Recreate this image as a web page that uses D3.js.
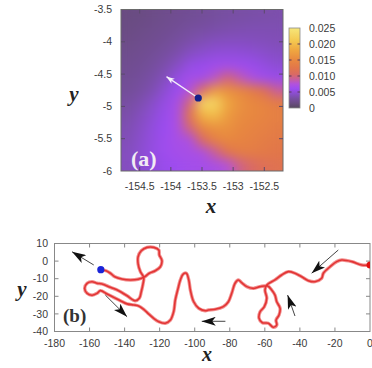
<!DOCTYPE html>
<html>
<head>
<meta charset="utf-8">
<script src="https://cdn.jsdelivr.net/npm/d3@7"></script>
<style>
  body { margin: 0; background: #fff; }
  text { font-family: "Liberation Sans", Arial, sans-serif; fill: #3a3a3a; }
  .lab { font-family: "Liberation Serif", "DejaVu Serif", serif; font-weight: bold; }
</style>
</head>
<body>
<script>
// ---- panel (a): density around the current position (values x 1e-3) ----
const gridX = [-154.7, -154.5, -154.3, -154.1, -153.9, -153.7, -153.5, -153.3, -153.1, -152.9, -152.7, -152.5, -152.3];
const gridY = [-3.596, -3.788, -3.981, -4.173, -4.365, -4.558, -4.750, -4.942, -5.135, -5.327, -5.519, -5.712, -5.904];
const density = [
  [1.5, 1.6, 1.8, 2.0, 2.2, 2.4, 2.6, 2.8, 3.0, 3.1, 3.2, 3.3, 3.4],
  [1.6, 1.8, 2.0, 2.2, 2.5, 2.8, 3.0, 3.2, 3.4, 3.5, 3.6, 3.6, 3.6],
  [1.8, 2.0, 2.2, 2.5, 2.9, 3.3, 3.7, 4.0, 4.1, 4.1, 4.0, 3.9, 3.8],
  [2.0, 2.2, 2.5, 2.9, 3.4, 4.2, 4.6, 5.0, 5.1, 5.0, 4.8, 4.5, 4.2],
  [2.2, 2.4, 2.8, 3.4, 4.3, 5.5, 5.8, 6.3, 6.4, 6.2, 5.8, 5.3, 4.8],
  [2.4, 2.7, 3.2, 4.0, 5.5, 6.5, 6.5, 8.0, 10, 8.5, 7.0, 6.2, 5.8],
  [2.6, 3.0, 3.6, 4.8, 6.0, 7.5, 11, 17, 16, 15, 13.5, 11.5, 9.0],
  [3.0, 3.5, 4.4, 5.5, 6.8, 10, 23, 23, 18, 16, 15, 14.5, 13.5],
  [3.3, 4.0, 4.8, 5.8, 7.0, 12.5, 19, 20, 17, 15.5, 15, 14.5, 14],
  [3.6, 4.3, 5.2, 6.0, 7.0, 10, 15, 16, 16, 15, 14.5, 14, 13.5],
  [3.8, 4.5, 5.3, 6.2, 6.8, 7.0, 10.5, 14, 15, 14.5, 14, 13.5, 13],
  [4.0, 4.7, 5.4, 6.2, 6.6, 6.8, 7.0, 9.0, 12, 13.5, 13.5, 13, 12.5],
  [4.0, 4.6, 5.2, 5.8, 6.2, 6.5, 6.6, 6.8, 7.5, 9.5, 10.5, 11.5, 12]
];
const position = [-153.56, -4.87];
const heading = [-154.07, -4.54];
const xTicksA = [-154.5, -154, -153.5, -153, -152.5];
const yTicksA = [-3.5, -4, -4.5, -5, -5.5, -6];
const cbTicks = [0, 0.005, 0.010, 0.015, 0.020, 0.025];
const cbStops = [0, 1.5, 3, 4.5, 6, 7.5, 9, 10.5, 12.5, 15, 18, 21, 25];
const cbColors = ["#56485e", "#6a4c82", "#784fa2", "#8a4ecc", "#9c4cf2", "#b252dc", "#c85e9c",
                  "#da6a64", "#e2764a", "#e88840", "#efa640", "#f4c850", "#f6e67a"];

// ---- panel (b): trajectory, from the start (x = 0) to the current position ----
const trackX = [0, -4.7, -10.4, -16.1, -19, -22.8, -26.6, -27.6, -31.4, -35.2, -39, -42.8, -46.6, -50.4, -54.2, -58.9,
  -59.9, -58.9, -60.3, -62.7, -63.3, -61.4, -58, -55.2, -53.2, -53.6, -51.9, -51.3, -53.2, -54.2, -56.1, -58.4,
  -62.7, -66.6, -70.3, -73.2, -75.1, -77, -78.9, -80.8, -83.7, -88.4, -92.2, -94, -97.7, -100.6, -102.5, -103.4,
  -104.8, -106.7, -108.2, -109.5, -111.1, -112, -113.9, -116.8, -120.5, -123.4, -126.2, -129.1, -132, -134.8,
  -138.6, -142.4, -146.2, -150, -153.8, -155.7, -158.6, -161.4, -162.8, -161.4, -158.6, -155.7, -152.9,
  -148.1, -143.4, -138.6, -133.9, -131.6, -130.5, -129.5, -129.1, -131, -132.3, -132.3, -130.5, -127.2, -123.4,
  -120.5, -120.2, -118.7, -119.6, -122.5, -125.9, -128.5, -132.3, -136.7, -141.5, -145.6, -148.1, -150.6, -153.56];
const trackY = [-2.2, -2.2, -0.3, 0.6, -0.3, -3.2, -6.9, -9.8, -11.7, -11.1, -8.9, -6.9, -6, -7.9, -10.7, -13.6,
  -16.4, -21.1, -25.9, -28.8, -32.5, -35, -35.3, -37.6, -36.3, -33.5, -30.6, -26.8, -23.1, -19.3, -16.4, -14.1,
  -14.5, -15.5, -14.5, -12.3, -10.7, -12.6, -18.3, -23.1, -25.9, -27.4, -27.8, -28.2, -26.8, -23.1, -16.4, -10.7,
  -6.9, -7.5, -10.7, -15.5, -22.1, -28.7, -33.5, -35.3, -34.4, -32.5, -30.1, -27.4, -25.5, -24.9,
  -24.3, -22.5, -20.6, -18.7, -16.8, -18.3, -19.4, -18.3, -15.5, -12.6, -11.7, -12.6, -13,
  -14.9, -16.8, -19.7, -22.5, -21.1, -17.4, -13, -9.2, -6, -1.6, 2.5, 5.9, 7.8, 7.8,
  6.3, 3.5, 0.2, -3.2, -5.5, -6.9, -8.9, -10.3, -10.7, -10.2, -8.9, -6.9, -5.5, -4.87];
// direction arrows: [tailX, tailY, tipX, tipY]
const arrowsB = [
  [-157.6, -2.2, -170, 5.3],
  [-151, -19.3, -138.6, -31.6],
  [-82.5, -34.2, -96, -34.2],
  [-18.1, 6.3, -33.3, -6.9],
  [-42.8, -31.2, -47, -19.3]
];
const xTicksB = [-180, -160, -140, -120, -100, -80, -60, -40, -20, 0];
const yTicksB = [10, 0, -10, -20, -30, -40];

const svg = d3.select("body").append("svg").attr("width", 372).attr("height", 368);
const defs = svg.append("defs");

function marker(id, len, wid, fill) {
  defs.append("marker").attr("id", id)
      .attr("viewBox", `0 0 ${len} ${wid}`)
      .attr("refX", len).attr("refY", wid / 2)
      .attr("markerWidth", len).attr("markerHeight", wid)
      .attr("markerUnits", "userSpaceOnUse").attr("orient", "auto")
    .append("path").attr("d", `M0,0L${len},${wid / 2}L0,${wid}L${len * 0.25},${wid / 2}Z`).attr("fill", fill);
}
marker("headW", 8, 6, "#f6f0fb");
marker("headK", 14, 9, "#111");

function frameTicks(g, x, y, xt, yt, len, col) {
  const [x0, x1] = x.range(), [y0, y1] = y.range();
  xt.forEach(t => {
    g.append("line").attr("x1", x(t)).attr("x2", x(t)).attr("y1", y0).attr("y2", y0 - len).attr("stroke", col);
    g.append("line").attr("x1", x(t)).attr("x2", x(t)).attr("y1", y1).attr("y2", y1 + len).attr("stroke", col);
  });
  yt.forEach(t => {
    g.append("line").attr("y1", y(t)).attr("y2", y(t)).attr("x1", x0).attr("x2", x0 + len).attr("stroke", col);
    g.append("line").attr("y1", y(t)).attr("y2", y(t)).attr("x1", x1).attr("x2", x1 - len).attr("stroke", col);
  });
}

// ================= panel (a) =================
const xA = d3.scaleLinear().domain([-154.8, -152.2]).range([121, 283]);
const yA = d3.scaleLinear().domain([-6, -3.5]).range([171, 9.5]);
const color = d3.scaleLinear().domain(cbStops).range(cbColors).clamp(true);

const nx = gridX.length, ny = gridY.length;
const canvas = document.createElement("canvas");
canvas.width = nx; canvas.height = ny;
const ctx = canvas.getContext("2d");
const img = ctx.createImageData(nx, ny);
density.forEach((row, j) => row.forEach((v, i) => {
  const c = d3.rgb(color(v)), k = 4 * (j * nx + i);
  img.data[k] = c.r; img.data[k + 1] = c.g; img.data[k + 2] = c.b; img.data[k + 3] = 255;
}));
ctx.putImageData(img, 0, 0);

// soften the coarse grid; alpha reset keeps the border colours solid
const smooth = defs.append("filter").attr("id", "smooth")
    .attr("x", 0).attr("y", 0).attr("width", 1).attr("height", 1)
    .attr("color-interpolation-filters", "sRGB");
smooth.append("feGaussianBlur").attr("stdDeviation", 4);
smooth.append("feComponentTransfer").append("feFuncA")
    .attr("type", "linear").attr("slope", 0).attr("intercept", 1);

defs.append("clipPath").attr("id", "clipA").append("rect")
    .attr("x", 121).attr("y", 9.5).attr("width", 162).attr("height", 161.5);
const cw = xA(gridX[1]) - xA(gridX[0]), ch = yA(gridY[1]) - yA(gridY[0]);
const gA = svg.append("g");
gA.append("g").attr("clip-path", "url(#clipA)")
  .append("image")
    .attr("href", canvas.toDataURL())
    .attr("x", xA(gridX[0]) - cw / 2).attr("y", yA(gridY[0]) - ch / 2)
    .attr("width", cw * nx).attr("height", ch * ny)
    .attr("preserveAspectRatio", "none")
    .attr("filter", "url(#smooth)");

gA.append("rect").attr("x", 121).attr("y", 9.5).attr("width", 162).attr("height", 161.5)
    .attr("fill", "none").attr("stroke", "#6a6a6a");
frameTicks(gA, xA, yA, xTicksA, yTicksA.slice(1, -1), 4, "#5a4a6a");

gA.append("line")
    .attr("x1", xA(position[0])).attr("y1", yA(position[1]))
    .attr("x2", xA(heading[0])).attr("y2", yA(heading[1]))
    .attr("stroke", "#f3ecfa").attr("stroke-width", 1.4).attr("marker-end", "url(#headW)");
gA.append("circle").attr("cx", xA(position[0])).attr("cy", yA(position[1])).attr("r", 3.6).attr("fill", "#14208a");

gA.append("text").attr("class", "lab").attr("x", 131).attr("y", 166).attr("font-size", 22)
    .style("fill", "#f2ecf4").text("(a)");

gA.selectAll(".ya").data(yTicksA).enter().append("text")
    .attr("x", 112).attr("y", d => yA(d)).attr("dy", "0.35em").attr("text-anchor", "end")
    .attr("font-size", 10.5).text(d => d);
gA.selectAll(".xa").data(xTicksA).enter().append("text")
    .attr("x", d => xA(d)).attr("y", 190).attr("text-anchor", "middle")
    .attr("font-size", 10.5).text(d => d);
gA.append("text").attr("class", "lab").attr("x", 74).attr("y", 101).attr("text-anchor", "middle")
    .attr("font-size", 21).attr("font-style", "italic").style("fill", "#222").text("y");
gA.append("text").attr("class", "lab").attr("x", 211).attr("y", 213).attr("text-anchor", "middle")
    .attr("font-size", 21).attr("font-style", "italic").style("fill", "#222").text("x");

// colour bar
const cbY = d3.scaleLinear().domain([0, 0.025]).range([108, 28]);
const grad = defs.append("linearGradient").attr("id", "cbGrad")
    .attr("x1", 0).attr("y1", 1).attr("x2", 0).attr("y2", 0);
cbStops.forEach((s, i) => grad.append("stop").attr("offset", s / 25).attr("stop-color", cbColors[i]));
gA.append("rect").attr("x", 289).attr("y", cbY(0.025)).attr("width", 11).attr("height", cbY(0) - cbY(0.025))
    .attr("fill", "url(#cbGrad)").attr("stroke", "#8a8a8a").attr("stroke-width", 0.8);
cbTicks.slice(1, -1).forEach(t => {
  gA.append("line").attr("x1", 289).attr("x2", 291.5).attr("y1", cbY(t)).attr("y2", cbY(t)).attr("stroke", "#5a3a5a");
  gA.append("line").attr("x1", 297.5).attr("x2", 300).attr("y1", cbY(t)).attr("y2", cbY(t)).attr("stroke", "#5a3a5a");
});
gA.selectAll(".cb").data(cbTicks).enter().append("text")
    .attr("x", 309).attr("y", d => cbY(d)).attr("dy", "0.35em")
    .attr("font-size", 10.5).text(d => d === 0 ? "0" : d3.format(".3f")(d));

// ================= panel (b) =================
const xB = d3.scaleLinear().domain([-180, 0]).range([54.5, 370]);
const yB = d3.scaleLinear().domain([-40, 10]).range([331.5, 243.5]);
const gB = svg.append("g");

gB.append("rect").attr("x", 54.5).attr("y", 243.5).attr("width", 315.5).attr("height", 88)
    .attr("fill", "none").attr("stroke", "#888");
frameTicks(gB, xB, yB, xTicksB.slice(1, -1), yTicksB.slice(1, -1), 4, "#888");

defs.append("clipPath").attr("id", "clipB").append("rect")
    .attr("x", 54.5).attr("y", 243.5).attr("width", 315.5).attr("height", 88);
const track = d3.range(trackX.length).map(i => [trackX[i], trackY[i]]);
const line = d3.line().x(d => xB(d[0])).y(d => yB(d[1])).curve(d3.curveCatmullRom.alpha(0.5));
const gT = gB.append("g").attr("clip-path", "url(#clipB)");
gT.append("path").attr("d", line(track)).attr("fill", "none")
    .attr("stroke", "#f29090").attr("stroke-width", 3.4).attr("stroke-linejoin", "round");
gT.append("path").attr("d", line(track)).attr("fill", "none")
    .attr("stroke", "#e23434").attr("stroke-width", 1.6).attr("stroke-linejoin", "round");
gT.append("circle").attr("cx", xB(trackX[0])).attr("cy", yB(trackY[0])).attr("r", 3.5).attr("fill", "#e01010");

gB.append("circle").attr("cx", xB(position[0])).attr("cy", yB(position[1])).attr("r", 3.6).attr("fill", "#1a24d8");

arrowsB.forEach(a => {
  gB.append("line").attr("x1", xB(a[0])).attr("y1", yB(a[1])).attr("x2", xB(a[2])).attr("y2", yB(a[3]))
      .attr("stroke", "#444").attr("stroke-width", 1).attr("marker-end", "url(#headK)");
});

gB.append("text").attr("class", "lab").attr("x", 63).attr("y", 321.5).attr("font-size", 19)
    .style("fill", "#333").text("(b)");

gB.selectAll(".yb").data(yTicksB).enter().append("text")
    .attr("x", 48).attr("y", d => yB(d)).attr("dy", "0.35em").attr("text-anchor", "end")
    .attr("font-size", 10.5).text(d => d);
gB.selectAll(".xb").data(xTicksB).enter().append("text")
    .attr("x", d => xB(d)).attr("y", 347).attr("text-anchor", "middle")
    .attr("font-size", 10.5).text(d => d);
gB.append("text").attr("class", "lab").attr("x", 22).attr("y", 296).attr("text-anchor", "middle")
    .attr("font-size", 21).attr("font-style", "italic").style("fill", "#222").text("y");
gB.append("text").attr("class", "lab").attr("x", 207).attr("y", 361).attr("text-anchor", "middle")
    .attr("font-size", 20).attr("font-style", "italic").style("fill", "#222").text("x");
</script>
</body>
</html>
